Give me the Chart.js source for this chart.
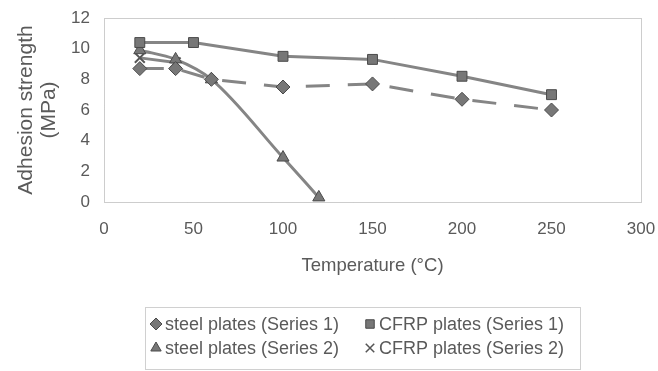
<!DOCTYPE html>
<html>
<head>
<meta charset="utf-8">
<script src="https://cdn.jsdelivr.net/npm/chart.js@4/dist/chart.umd.min.js"></script>
<style>
	html,body{margin:0;padding:0;background:#fff;}
	#wrap{width:658px;height:371px;}
</style>
</head>
<body>
<div id="wrap"><canvas id="chart" width="658" height="371"></canvas></div>
<script>
	// values
	var steel1X = [20, 40, 60, 100, 150, 200, 250];
	var steel1Y = [8.7, 8.7, 8.0, 7.5, 7.7, 6.7, 6.0];

	var cfrp1X = [20, 50, 100, 150, 200, 250];
	var cfrp1Y = [10.4, 10.4, 9.5, 9.3, 8.2, 7.0];

	var steel2X = [20, 40, 60, 100, 120];
	var steel2Y = [9.9, 9.3, 8.0, 2.9, 0.3];

	var cfrp2X = [20, 40];
	var cfrp2Y = [9.4, 9.1];

	var seriesLabels = ['steel plates (Series 1)', 'CFRP plates (Series 1)', 'steel plates (Series 2)', 'CFRP plates (Series 2)'];
	var xTitle = 'Temperature (\u00b0C)';
	var yTitle = ['Adhesion strength', '(MPa)'];

	function pts(xs, ys){
		return xs.map(function(x, i){ return {x: x, y: ys[i]}; });
	}

	var lineCol = '#858585';
	var markCol = '#777';
	var edgeCol = '#4a4a4a';
	var textCol = '#5a5a5a';
	var font = 'Liberation Sans, Arial, sans-serif';

	var frame = {
		id: 'frame',
		beforeDatasetsDraw: function(chart){
			var a = chart.chartArea, ctx = chart.ctx;
			ctx.save();
			ctx.strokeStyle = '#9a9a9a';
			ctx.lineWidth = 1;
			ctx.setLineDash([1, 1]);
			ctx.strokeRect(a.left + 0.5, a.top + 0.5, a.right - a.left, a.bottom - a.top);
			ctx.restore();
		}
	};

	var legendBox = {
		id: 'legendBox',
		afterDraw: function(chart){
			var ctx = chart.ctx;
			ctx.save();
			ctx.strokeStyle = '#a0a0a0';
			ctx.lineWidth = 1;
			ctx.setLineDash([1, 1]);
			ctx.strokeRect(145.5, 307.5, 435, 62);
			ctx.setLineDash([]);
			var cols = [156, 370], rows = [324, 348];
			ctx.font = '18px ' + font;
			ctx.textBaseline = 'middle';
			chart.data.datasets.forEach(function(ds, i){
				var cx = cols[i % 2], cy = rows[Math.floor(i / 2)];
				ctx.fillStyle = ds.pointBackgroundColor;
				ctx.strokeStyle = ds.pointBorderColor;
				ctx.lineWidth = ds.pointStyle === 'crossRot' ? 1.5 : 1;
				Chart.helpers.drawPoint(ctx, {pointStyle: ds.pointStyle, radius: 6, borderWidth: 1, rotation: 0}, cx, cy);
				ctx.fillStyle = textCol;
				ctx.fillText(ds.label, cx + 9, cy + 1);
			});
			ctx.restore();
		}
	};

	function series(label, data, style, extra){
		var ds = {
			label: label,
			data: data,
			borderColor: lineCol,
			borderWidth: 3,
			pointStyle: style,
			pointRadius: 7,
			pointBackgroundColor: markCol,
			pointBorderColor: edgeCol,
			pointBorderWidth: 1,
			tension: 0
		};
		for (var k in extra) ds[k] = extra[k];
		return ds;
	}

	new Chart(document.getElementById('chart'), {
		type: 'line',
		data: {
			datasets: [
				series(seriesLabels[0], pts(steel1X, steel1Y), 'rectRot', {borderDash: [24, 18]}),
				series(seriesLabels[1], pts(cfrp1X, cfrp1Y), 'rect', {}),
				series(seriesLabels[2], pts(steel2X, steel2Y), 'triangle', {cubicInterpolationMode: 'monotone'}),
				series(seriesLabels[3], pts(cfrp2X, cfrp2Y), 'crossRot', {pointBorderColor: '#555', pointBorderWidth: 2})
			]
		},
		options: {
			responsive: false,
			animation: false,
			layout: {padding: {top: 18, right: 17, bottom: 89, left: 0}},
			plugins: {legend: {display: false}, tooltip: {enabled: false}},
			scales: {
				x: {
					type: 'linear', min: 0, max: 300,
					grid: {display: false, drawTicks: false},
					border: {display: false},
					ticks: {stepSize: 50, padding: 17, color: textCol, font: {family: font, size: 17}},
					title: {display: true, text: xTitle, color: textCol, font: {family: font, size: 18.5}, padding: {top: 0, bottom: 5}},
					afterFit: function(s){ s.height = 80; s.paddingLeft = 0; s.paddingRight = 0; }
				},
				y: {
					type: 'linear', min: 0, max: 12,
					grid: {display: false, drawTicks: false},
					border: {display: false},
					ticks: {stepSize: 2, padding: 14, color: textCol, font: {family: font, size: 17}},
					title: {display: true, text: yTitle, color: textCol, font: {family: font, size: 21, lineHeight: 1.1}, padding: {top: 15, bottom: 0}},
					afterFit: function(s){ s.width = 104; s.paddingTop = 0; s.paddingBottom = 0; }
				}
			}
		},
		plugins: [frame, legendBox]
	});
</script>
</body>
</html>
